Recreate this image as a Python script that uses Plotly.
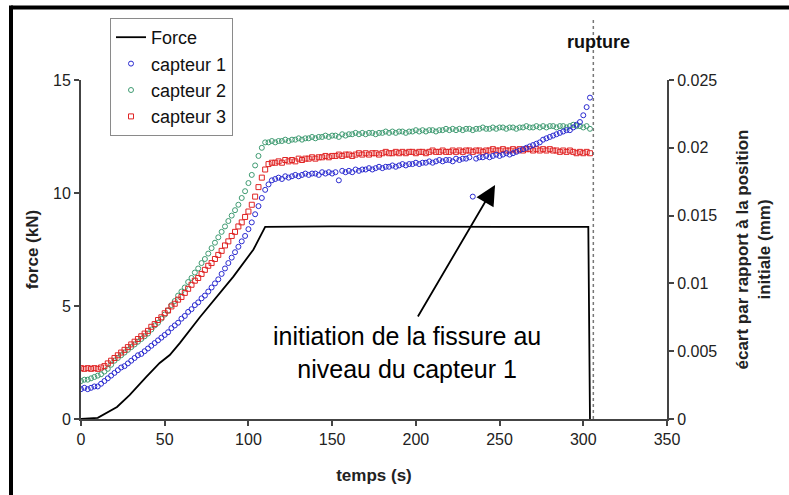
import plotly.graph_objects as go

# Force signal (kN) versus time (s)
t_force = [0, 10, 21.5, 29, 39, 47, 53, 59, 71, 81, 91, 103, 110, 150, 200, 250, 303, 304]
force_kN = [0, 0.05, 0.53, 1.06, 1.86, 2.48, 2.83, 3.36, 4.5, 5.4, 6.3, 7.5, 8.5, 8.52, 8.5, 8.5, 8.5, 0]

# Sampling instants of the displacement sensors (s)
t_capteurs = [
    0, 2, 4, 6, 8, 10, 12, 14, 16, 18,
    20, 22, 24, 26, 28, 30, 32, 34, 36, 38,
    40, 42, 44, 46, 48, 50, 52, 54, 56, 58,
    60, 62, 64, 66, 68, 70, 72, 74, 76, 78,
    80, 82, 84, 86, 88, 90, 92, 94, 96, 98,
    100, 102, 104, 106, 108, 110, 112, 114, 116, 118,
    120, 122, 124, 126, 128, 130, 132, 134, 136, 138,
    140, 142, 144, 146, 148, 150, 152, 154, 156, 158,
    160, 162, 164, 166, 168, 170, 172, 174, 176, 178,
    180, 182, 184, 186, 188, 190, 192, 194, 196, 198,
    200, 202, 204, 206, 208, 210, 212, 214, 216, 218,
    220, 222, 224, 226, 228, 230, 232, 234, 236, 238,
    240, 242, 244, 246, 248, 250, 252, 254, 256, 258,
    260, 262, 264, 266, 268, 270, 272, 274, 276, 278,
    280, 282, 284, 286, 288, 290, 292, 294, 296, 298,
    300, 302, 304,
]

# Sensor offsets from initial position, in micrometres
capteur1_um = [
    2.2, 2.3, 2.2, 2.3, 2.4, 2.4, 2.6, 2.8, 3.0, 3.2,
    3.4, 3.6, 3.8, 3.9, 4.1, 4.3, 4.5, 4.7, 4.8, 5.0,
    5.2, 5.4, 5.6, 5.8, 6.0, 6.2, 6.4, 6.7, 6.9, 7.1,
    7.4, 7.6, 7.9, 8.1, 8.4, 8.6, 8.9, 9.1, 9.4, 9.7,
    10.0, 10.3, 10.7, 11.1, 11.5, 11.9, 12.3, 12.7, 13.1, 13.5,
    14.0, 14.5, 15.1, 15.7, 16.3, 16.9, 17.3, 17.6, 17.7, 17.8,
    17.7, 17.9, 17.8, 17.9, 18.0, 17.9, 18.0, 18.1, 18.0, 18.1,
    18.1, 18.0, 18.2, 18.1, 18.2, 18.1, 18.2, 17.6, 18.3, 18.2,
    18.3, 18.2, 18.4, 18.3, 18.4, 18.4, 18.5, 18.4, 18.5, 18.6,
    18.5, 18.6, 18.6, 18.7, 18.6, 18.7, 18.8, 18.7, 18.8, 18.8,
    18.9, 18.8, 18.9, 18.9, 19.0, 18.9, 19.0, 19.1, 19.0, 19.1,
    19.1, 19.0, 19.2, 19.1, 19.2, 19.2, 19.3, 16.4, 19.2, 19.3,
    19.3, 19.4, 19.3, 19.4, 19.5, 19.4, 19.5, 19.6, 19.5, 19.6,
    19.7, 19.8, 19.9, 20.0, 20.1, 20.2, 20.3, 20.4, 20.6, 20.7,
    20.8, 20.9, 21.0, 21.1, 21.2, 21.3, 21.3, 21.5, 21.7, 21.9,
    22.4, 23.0, 23.7,
]
capteur2_um = [
    2.8, 2.9, 2.9, 3.0, 3.1, 3.2, 3.3, 3.5, 3.7, 4.0,
    4.3, 4.5, 4.7, 4.9, 5.1, 5.3, 5.5, 5.7, 5.9, 6.1,
    6.3, 6.6, 6.9, 7.1, 7.4, 7.7, 8.0, 8.4, 8.7, 9.1,
    9.4, 9.7, 10.1, 10.4, 10.8, 11.1, 11.5, 11.8, 12.2, 12.6,
    13.0, 13.4, 13.8, 14.2, 14.6, 15.0, 15.4, 15.8, 16.3, 16.8,
    17.4, 18.0, 18.7, 19.4, 20.0, 20.4, 20.4, 20.5, 20.4, 20.5,
    20.5, 20.6, 20.5, 20.6, 20.6, 20.7, 20.6, 20.7, 20.7, 20.8,
    20.7, 20.8, 20.8, 20.9, 20.8, 20.9, 20.9, 20.8, 21.0, 20.9,
    21.0, 21.0, 21.1, 21.0, 21.1, 21.0, 21.1, 21.1, 21.0, 21.1,
    21.1, 21.2, 21.1, 21.2, 21.1, 21.2, 21.2, 21.1, 21.2, 21.2,
    21.3, 21.2, 21.3, 21.2, 21.3, 21.3, 21.2, 21.3, 21.3, 21.4,
    21.3, 21.4, 21.3, 21.4, 21.3, 21.4, 21.4, 21.3, 21.4, 21.4,
    21.5, 21.4, 21.4, 21.5, 21.4, 21.5, 21.5, 21.4, 21.5, 21.5,
    21.4, 21.5, 21.5, 21.6, 21.5, 21.5, 21.6, 21.5, 21.6, 21.5,
    21.6, 21.6, 21.5, 21.6, 21.6, 21.5, 21.6, 21.7, 21.6, 21.6,
    21.5, 21.6, 21.4,
]
capteur3_um = [
    3.75, 3.7, 3.75, 3.7, 3.75, 3.7, 3.8, 3.9, 4.1, 4.3,
    4.5, 4.7, 4.9, 5.1, 5.3, 5.5, 5.7, 5.9, 6.1, 6.3,
    6.5, 6.8, 7.0, 7.3, 7.5, 7.8, 8.0, 8.3, 8.5, 8.8,
    9.0, 9.3, 9.6, 9.9, 10.2, 10.4, 10.7, 11.0, 11.3, 11.5,
    11.8, 12.1, 12.4, 12.8, 13.1, 13.5, 13.8, 14.2, 14.5, 14.9,
    15.3, 15.8, 16.4, 17.1, 17.8, 18.4, 18.8, 18.9, 18.9, 19.0,
    18.9, 19.1, 19.0, 19.1, 19.0, 19.2, 19.1, 19.2, 19.2, 19.3,
    19.2, 19.3, 19.3, 19.4, 19.3, 19.4, 19.4, 19.5, 19.4, 19.5,
    19.5, 19.4, 19.5, 19.6, 19.5, 19.6, 19.5, 19.6, 19.6, 19.5,
    19.6, 19.7, 19.6, 19.6, 19.7, 19.6, 19.7, 19.6, 19.7, 19.7,
    19.6, 19.7, 19.7, 19.6, 19.7, 19.8, 19.7, 19.7, 19.8, 19.7,
    19.7, 19.8, 19.7, 19.8, 19.7, 19.8, 19.8, 19.7, 19.8, 19.8,
    19.7, 19.8, 19.8, 19.9, 19.8, 19.8, 19.9, 19.8, 19.8, 19.9,
    19.8, 19.9, 19.8, 19.9, 19.9, 19.8, 19.9, 19.8, 19.9, 19.8,
    19.9, 19.8, 19.8, 19.7, 19.8, 19.7, 19.8, 19.7, 19.6, 19.7,
    19.6, 19.7, 19.6,
]

t_rupture = 306

FONT = "Liberation Sans, Arial, sans-serif"
AXIS_COL = "#444444"


def to_mm(values_um):
    return [v / 1000.0 for v in values_um]


fig = go.Figure()

fig.add_trace(go.Scatter(
    x=t_force, y=force_kN, name="Force", mode="lines",
    line=dict(color="black", width=1.8), legendrank=1,
))
fig.add_trace(go.Scatter(
    x=t_capteurs, y=to_mm(capteur2_um), name="capteur 2", mode="markers", yaxis="y2",
    marker=dict(symbol="circle-open", size=5, color="#3f9b72", line=dict(width=1)),
    legendrank=3,
))
fig.add_trace(go.Scatter(
    x=t_capteurs, y=to_mm(capteur3_um), name="capteur 3", mode="markers", yaxis="y2",
    marker=dict(symbol="square-open", size=5, color="#e02424", line=dict(width=1)),
    legendrank=4,
))
fig.add_trace(go.Scatter(
    x=t_capteurs, y=to_mm(capteur1_um), name="capteur 1", mode="markers", yaxis="y2",
    marker=dict(symbol="circle-open", size=5, color="#2a2ad0", line=dict(width=1)),
    legendrank=2,
))

tickfont = dict(family=FONT, size=16, color="#222222")
titlefont = dict(family=FONT, size=17, color="#222222", weight="bold")

# plot area in pixels: x 81..667, y 80..419
L, R, T, B = 81, 789 - 667, 80, 495 - 419
PW, PH = 789 - L - R, 495 - T - B


def px(xp):
    return (xp - L) / PW


def py(yp):
    return (495 - B - yp) / PH


fig.update_layout(
    width=789, height=495,
    margin=dict(l=L, r=R, t=T, b=B, pad=0),
    paper_bgcolor="white", plot_bgcolor="white",
    font=dict(family=FONT, color="#222222"),
    xaxis=dict(
        range=[0, 350], dtick=50, tick0=0, showgrid=False, zeroline=False,
        showline=True, linecolor=AXIS_COL, linewidth=2,
        ticks="outside", ticklen=5, tickwidth=1.5, tickcolor=AXIS_COL,
        tickfont=tickfont,
        title=dict(text="temps (s)", font=titlefont, standoff=22),
    ),
    xaxis2=dict(
        range=[0, 350], overlaying="x", anchor="y", side="bottom", dtick=25, tick0=0,
        showgrid=False, zeroline=False, showline=False, showticklabels=False,
        ticks="inside", ticklen=4, tickwidth=1.5, tickcolor=AXIS_COL,
    ),
    yaxis=dict(
        range=[0, 15], dtick=5, tick0=0, showgrid=False, zeroline=False,
        showline=True, linecolor=AXIS_COL, linewidth=2,
        ticks="outside", ticklen=5, tickwidth=1.5, tickcolor=AXIS_COL,
        tickfont=tickfont,
        title=dict(text="force (kN)", font=titlefont, standoff=10),
    ),
    yaxis2=dict(
        range=[0, 0.025], dtick=0.005, tick0=0, overlaying="y", side="right", anchor="x",
        showgrid=False, zeroline=False,
        showline=True, linecolor=AXIS_COL, linewidth=2,
        ticks="outside", ticklen=5, tickwidth=1.5, tickcolor=AXIS_COL,
        tickfont=tickfont, tickformat="~g",
        title=dict(text="écart par rapport à la position<br>initiale (mm)",
                   font=titlefont, standoff=20),
    ),
    yaxis3=dict(
        range=[0, 15], dtick=2.5, tick0=0, overlaying="y", side="left", anchor="x",
        showgrid=False, zeroline=False, showline=False, showticklabels=False,
        ticks="inside", ticklen=4, tickwidth=1.5, tickcolor=AXIS_COL,
    ),
    yaxis4=dict(
        range=[0, 0.025], dtick=0.0025, tick0=0, overlaying="y", side="right", anchor="x",
        showgrid=False, zeroline=False, showline=False, showticklabels=False,
        ticks="inside", ticklen=4, tickwidth=1.5, tickcolor=AXIS_COL,
    ),
    legend=dict(
        x=px(110), y=py(18), xanchor="left", yanchor="top",
        bgcolor="white", bordercolor="#8a8a8a", borderwidth=1,
        font=dict(family=FONT, size=18, color="#111111"),
        itemwidth=30, tracegroupgap=0,
    ),
    showlegend=True,
)

# dotted rupture marker
fig.add_shape(type="line", xref="x", yref="paper", x0=t_rupture, x1=t_rupture,
              y0=0, y1=py(18), line=dict(color="#777777", width=1.5, dash="dot"))
fig.add_annotation(x=t_rupture + 3, y=py(42), xref="x", yref="paper", text="<b>rupture</b>",
                   showarrow=False, font=dict(family=FONT, size=18, color="#111111"),
                   xanchor="center", yanchor="middle")

# arrow pointing at the crack initiation
fig.add_annotation(x=247.3, y=10.35, xref="x", yref="y", ax=200.7, ay=4.47,
                   axref="x", ayref="y", text="", showarrow=True,
                   arrowhead=2, arrowsize=2.2, arrowwidth=1.8, arrowcolor="black")
fig.add_annotation(x=195, y=2.95, xref="x", yref="y",
                   text="initiation de la fissure au<br>niveau du capteur 1",
                   showarrow=False, align="center",
                   font=dict(family=FONT, size=25, color="black"),
                   xanchor="center", yanchor="middle")

# outer frame (top and left edges)
fig.add_shape(type="line", xref="paper", yref="paper", x0=px(11), x1=px(800),
              y0=py(7.5), y1=py(7.5), line=dict(color="black", width=4))
fig.add_shape(type="line", xref="paper", yref="paper", x0=px(11), x1=px(11),
              y0=py(5.5), y1=py(500), line=dict(color="black", width=4))

fig.write_html("out.html")
